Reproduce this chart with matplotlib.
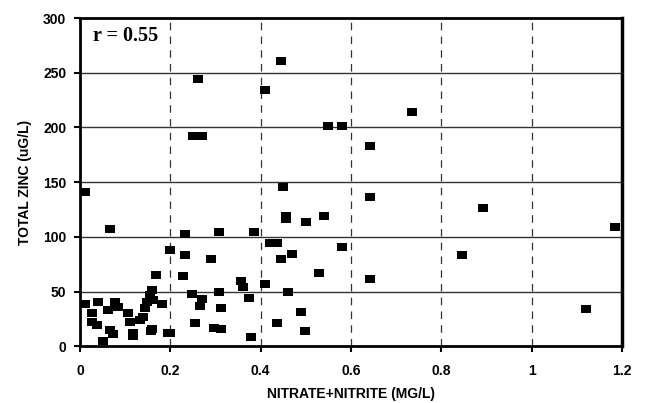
import numpy as np
import matplotlib
matplotlib.use("Agg")
import matplotlib.pyplot as plt

# nitrate+nitrite (mg/L) vs total zinc (ug/L)
nitrate = [
    0.446, 0.26, 0.41, 0.25, 0.27, 0.548, 0.58, 0.643, 0.736, 0.45,
    0.643, 0.455, 0.455, 0.50, 0.54, 0.232, 0.307, 0.385, 0.893, 1.185,
    0.845, 0.641, 1.12, 0.579, 0.011, 0.066, 0.199, 0.232, 0.29, 0.42,
    0.437, 0.446, 0.47, 0.168, 0.228, 0.528, 0.356, 0.36, 0.41, 0.46,
    0.307, 0.248, 0.27, 0.265, 0.374, 0.312, 0.49, 0.254, 0.296, 0.312,
    0.435, 0.497, 0.378, 0.194, 0.117, 0.157, 0.011, 0.04, 0.027, 0.027,
    0.038, 0.062, 0.077, 0.084, 0.066, 0.073, 0.05, 0.106, 0.117, 0.133,
    0.155, 0.148, 0.161, 0.144, 0.139, 0.159, 0.181, 0.199, 0.11, 0.159,
]
zinc = [
    261, 244, 234, 192, 192, 201, 201, 183, 214, 146,
    136, 119, 116, 114, 119, 103, 104, 104, 126, 109,
    83, 61, 34, 91, 141, 107, 88, 83, 80, 94,
    94, 80, 84, 65, 64, 67, 60, 54, 57, 50,
    50, 48, 43, 37, 44, 35, 31, 21, 17, 16,
    21, 14, 8, 12, 9, 14, 39, 40, 30, 22,
    19, 33, 40, 36, 15, 11, 5, 30, 12, 24,
    47, 40, 42, 35, 27, 16, 39, 12, 22, 51,
]

x_ticks = [0, 0.2, 0.4, 0.6, 0.8, 1, 1.2]
x_tick_labels = ["0", "0.2", "0.4", "0.6", "0.8", "1", "1.2"]
y_ticks = [0, 50, 100, 150, 200, 250, 300]

fig = plt.figure(figsize=(6.47, 4.03), dpi=100)
ax = fig.add_axes([0.124, 0.141, 0.837, 0.814])

# horizontal solid grid, vertical dashed grid
for yv in y_ticks[1:-1]:
    ax.axhline(yv, color="#333333", lw=1.0, zorder=1)
for xv in x_ticks[1:-1]:
    ax.axvline(xv, color="#333333", lw=0.9, ls=(0, (6, 5)), zorder=1)

rect = [(-1.3, -1), (1.3, -1), (1.3, 1), (-1.3, 1), (-1.3, -1)]
ax.scatter(nitrate, zinc, marker=rect, s=58, c="black", linewidths=0,
           zorder=3, clip_on=False)

ax.set_xlim(0, 1.2)
ax.set_ylim(0, 300)
ax.set_xticks(x_ticks)
ax.set_xticklabels(x_tick_labels)
ax.set_yticks(y_ticks)

for side in ["left", "bottom", "top"]:
    ax.spines[side].set_linewidth(2.0)
ax.spines["right"].set_linewidth(2.5)

ax.tick_params(axis="both", direction="out", length=4, width=1.5,
               labelsize=10, pad=6)
ax.tick_params(axis="x", pad=9)
for lab in ax.get_xticklabels() + ax.get_yticklabels():
    lab.set_fontfamily("Liberation Sans")
    lab.set_fontweight("bold")

ax.set_xlabel("NITRATE+NITRITE (MG/L)", fontsize=10, fontweight="bold",
              family="Liberation Sans", labelpad=6)
ax.set_ylabel("TOTAL ZINC (uG/L)", fontsize=10, fontweight="bold",
              family="Liberation Sans", labelpad=8)

ax.text(0.028, 284, "r = 0.55", fontsize=14.5, fontweight="bold",
        family="Liberation Serif", va="center", ha="left")

fig.savefig("out.png", dpi=100)
